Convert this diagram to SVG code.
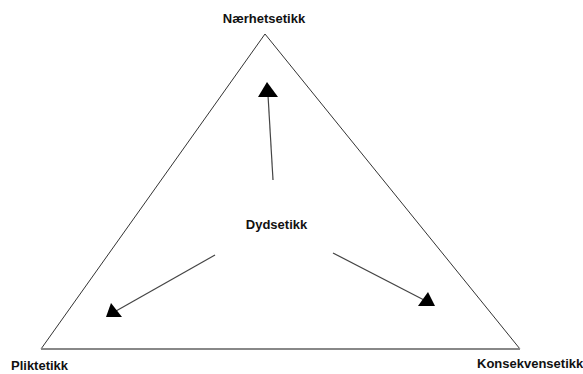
<svg xmlns="http://www.w3.org/2000/svg" width="583" height="374" viewBox="0 0 583 374">
<style>
.lbl{font-family:"Liberation Sans",Arial,sans-serif;font-size:13px;font-weight:bold;fill:#111}
.edge{stroke:#333;stroke-width:1;fill:none}
.conn{stroke:#444;stroke-width:1.2;fill:none}
.head{fill:#000}
</style>
<rect width="583" height="374" fill="#fff"/>
<g id="triangle">
<line class="edge" x1="265" y1="34" x2="41" y2="349"/>
<line class="edge" x1="265" y1="34" x2="520" y2="349"/>
<line x1="41" y1="349" x2="520" y2="349" stroke="#888" stroke-width="1.8"/>
</g>
<g id="connectors">
<line class="conn" x1="273" y1="180" x2="268" y2="95"/>
<polygon class="head" points="267,82 258,97 278,97"/>
<line class="conn" x1="215" y1="255" x2="116" y2="311"/>
<polygon class="head" points="111,303 106,317 122,317"/>
<line class="conn" x1="333" y1="253" x2="424" y2="300"/>
<polygon class="head" points="428,292 418,306 435,306"/>
</g>
<g id="node-naerhetsetikk"><text class="lbl" x="264" y="23" text-anchor="middle">Nærhetsetikk</text></g>
<g id="node-dydsetikk"><text class="lbl" x="276.5" y="229" text-anchor="middle">Dydsetikk</text></g>
<g id="node-pliktetikk"><text class="lbl" x="11" y="370">Pliktetikk</text></g>
<g id="node-konsekvensetikk"><text class="lbl" x="477" y="368">Konsekvensetikk</text></g>
</svg>
